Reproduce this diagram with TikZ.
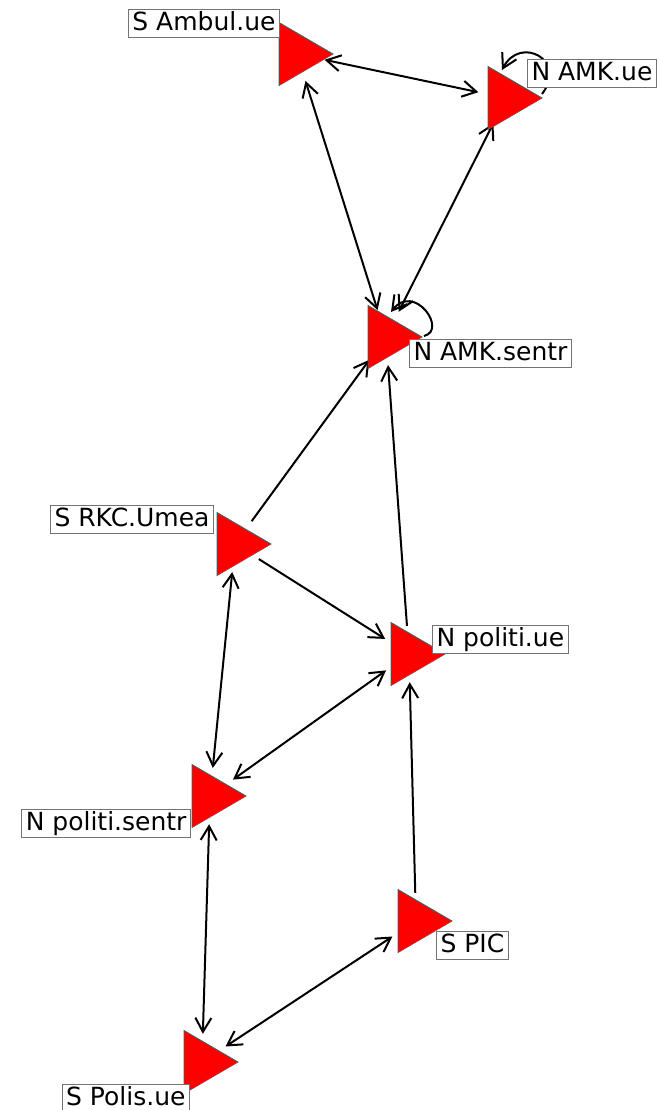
\documentclass[tikz,border=0pt]{standalone}
\usepackage{fontspec}
\setmainfont{DejaVu Sans}
\usetikzlibrary{arrows.meta}
\tikzset{
  vtx/.style={circle, minimum size=56pt, inner sep=0pt, draw=none},
  tri/.pic={\filldraw[fill=red, draw=black!65, line width=0.8pt] (36,0) -- (-18,-31.5) -- (-18,31.5) -- cycle;},
  lab/.style={draw=black!55, fill=white, line width=1pt, inner xsep=4pt, inner ysep=2pt,
    text height=19pt, text depth=5pt, font=\fontsize{25}{30}\selectfont, text=black},
  lnk/.style={line width=2pt, -{Straight Barb[length=14pt,width=16pt]}},
  bi/.style={line width=2pt, {Straight Barb[length=14pt,width=16pt]}-{Straight Barb[length=14pt,width=16pt]}},
}
\begin{document}
\begin{tikzpicture}[x=1pt, y=-1pt]
\useasboundingbox (0,0) rectangle (659,1110);
% vertices (invisible anchors)
\node[vtx] (sa) at (297,54) {};
\node[vtx] (nu) at (506,98) {};
\node[vtx] (ns) at (386,337) {};
\node[vtx] (rk) at (235,544) {};
\node[vtx] (pu) at (409,654) {};
\node[vtx] (ps) at (210,796) {};
\node[vtx] (sp) at (416,921) {};
\node[vtx] (po) at (202,1062) {};
% edges
\draw[bi] (sa) -- (nu);
\draw[bi] (sa) -- (ns);
\draw[bi] (nu) -- (ns);
\draw[lnk] (rk) -- (ns);
\draw[lnk] (pu) -- (ns);
\draw[lnk] (rk) -- (pu);
\draw[bi] (rk) -- (ps);
\draw[bi] (pu) -- (ps);
\draw[bi] (ps) -- (po);
\draw[lnk] (sp) -- (pu);
\draw[bi] (sp) -- (po);
% self loops
\draw[lnk] ([shift={(36,-4)}]nu.center) .. controls +(26,-34) and +(18,-35) .. ([shift={(-4,-28)}]nu.center);
\draw[lnk] ([shift={(38,-1)}]ns.center) .. controls +(24,-6) and +(23,-30) .. ([shift={(5,-25)}]ns.center);
% triangles
\foreach \v in {sa,nu,ns,rk,pu,ps,sp,po} { \pic at (\v) {tri}; }
% labels
\node[lab, anchor=east] (lsa) at (280,24) {S Ambul.ue};
\node[lab, anchor=west] (lnu) at (527,74) {N AMK.ue};
\node[lab, anchor=west] (lns) at (409,353) {N AMK.sentr};
\node[lab, anchor=east] (lrk) at (214,519) {S RKC.Umea};
\node[lab, anchor=west] (lpu) at (432,639) {N politi.ue};
\node[lab, anchor=east] (lps) at (191,823.5) {N politi.sentr};
\node[lab, anchor=west] (lsp) at (436,945) {S PIC};
\node[lab, anchor=east] (lpo) at (190,1098) {S Polis.ue};
\end{tikzpicture}
\end{document}
